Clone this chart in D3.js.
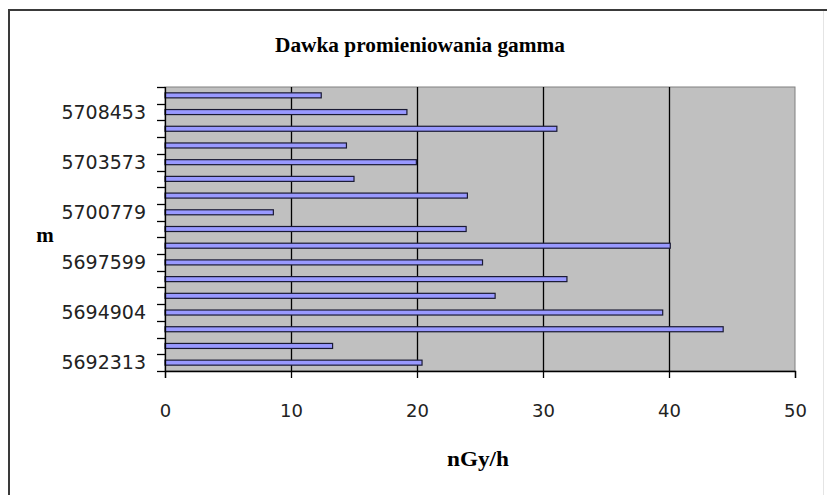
<!DOCTYPE html>
<html>
<head>
<meta charset="utf-8">
<script src="https://cdn.jsdelivr.net/npm/d3@7"></script>
<style>
  html, body { margin: 0; padding: 0; background: #ffffff; }
  svg { display: block; }
</style>
</head>
<body>
<svg id="chart" width="827" height="495"></svg>
<script>
// ---- data (bottom to top, as drawn) ----
const chartTitle = "Dawka promieniowania gamma";
const xAxisTitle = "nGy/h";
const yAxisTitle = "m";
// category labels; only every third one is printed on the axis
const categoryLabels = [
  "5692313", null, null,
  "5694904", null, null,
  "5697599", null, null,
  "5700779", null, null,
  "5703573", null, null,
  "5708453", null
];
const doseValues = [
  20.4, 13.3, 44.3,
  39.5, 26.2, 31.9,
  25.2, 40.1, 23.9,
  8.6, 24.0, 15.0,
  19.95, 14.4, 31.1,
  19.2, 12.4
];
const xTicks = [0, 10, 20, 30, 40, 50];

// ---- layout ----
const svg = d3.select("#chart");
const plot = { left: 165, right: 795, top: 87, bottom: 371 };

const x = d3.scaleLinear().domain([0, 50]).range([plot.left, plot.right]);
const idx = d3.range(doseValues.length);
const y = d3.scaleBand().domain(idx).range([plot.bottom, plot.top]).paddingInner(0.7).paddingOuter(0.35);
const yBand = d3.scaleBand().domain(idx).range([plot.bottom, plot.top]);

// outer chart frame
svg.append("line").attr("x1", 9).attr("y1", 10).attr("x2", 9).attr("y2", 495)
  .attr("stroke", "#3a3a3a").attr("stroke-width", 2);
svg.append("line").attr("x1", 8).attr("y1", 10).attr("x2", 827).attr("y2", 10)
  .attr("stroke", "#3a3a3a").attr("stroke-width", 2);
svg.append("line").attr("x1", 823.5).attr("y1", 11).attr("x2", 823.5).attr("y2", 495)
  .attr("stroke", "#e4e4e4").attr("stroke-width", 1);

// plot area
svg.append("rect")
  .attr("x", plot.left).attr("y", plot.top)
  .attr("width", plot.right - plot.left).attr("height", plot.bottom - plot.top)
  .attr("fill", "#c0c0c0").attr("stroke", "#808080").attr("stroke-width", 1);

// gridlines
svg.append("g").selectAll("line")
  .data(xTicks.filter(t => t > 0 && t < 50))
  .join("line")
  .attr("x1", d => Math.round(x(d)) + 0.5).attr("x2", d => Math.round(x(d)) + 0.5)
  .attr("y1", plot.top).attr("y2", plot.bottom)
  .attr("stroke", "#000").attr("stroke-width", 1.3);

// bars
svg.append("g").selectAll("rect")
  .data(idx)
  .join("rect")
  .attr("x", x(0))
  .attr("y", i => y(i))
  .attr("width", i => x(doseValues[i]) - x(0))
  .attr("height", y.bandwidth())
  .attr("fill", "#9999ff")
  .attr("stroke", "#1a1a33").attr("stroke-width", 1.2);

// x axis
const xAxis = d3.axisBottom(x).tickValues(xTicks).tickSize(7).tickPadding(26).tickFormat(d3.format("d"));
const gx = svg.append("g").attr("transform", `translate(0,${plot.bottom})`).call(xAxis);
gx.select(".domain").attr("stroke", "#000").attr("stroke-width", 1.3);
gx.selectAll(".tick line").attr("stroke", "#000").attr("stroke-width", 1.3);
gx.selectAll(".tick text")
  .attr("font-family", "DejaVu Sans, sans-serif").attr("font-size", 18)
  .attr("fill", "#222");

// y axis: ticks at band boundaries, labels at band centers
const boundaries = d3.range(doseValues.length + 1).map(k => plot.bottom - k * yBand.step());
svg.append("g").selectAll("line")
  .data(boundaries)
  .join("line")
  .attr("x1", plot.left - 8).attr("x2", plot.left)
  .attr("y1", d => Math.round(d) + 0.5).attr("y2", d => Math.round(d) + 0.5)
  .attr("stroke", "#000").attr("stroke-width", 1.3);
svg.append("line")
  .attr("x1", plot.left + 0.5).attr("x2", plot.left + 0.5)
  .attr("y1", plot.top).attr("y2", plot.bottom)
  .attr("stroke", "#000").attr("stroke-width", 1.3);

svg.append("g").selectAll("text")
  .data(idx.filter(i => categoryLabels[i]))
  .join("text")
  .attr("x", 146)
  .attr("y", i => yBand(i) + yBand.bandwidth() / 2)
  .attr("dy", "0.36em")
  .attr("text-anchor", "end")
  .attr("font-family", "DejaVu Sans, sans-serif").attr("font-size", 19)
  .attr("fill", "#222")
  .text(i => categoryLabels[i]);

// titles
svg.append("text")
  .attr("x", 420).attr("y", 52)
  .attr("text-anchor", "middle")
  .attr("font-family", "Liberation Serif, serif").attr("font-weight", "bold").attr("font-size", 20)
  .attr("textLength", 290).attr("lengthAdjust", "spacingAndGlyphs")
  .text(chartTitle);

svg.append("text")
  .attr("x", 45).attr("y", 242)
  .attr("text-anchor", "middle")
  .attr("font-family", "Liberation Serif, serif").attr("font-weight", "bold").attr("font-size", 21)
  .text(yAxisTitle);

svg.append("text")
  .attr("x", 478).attr("y", 466)
  .attr("text-anchor", "middle")
  .attr("font-family", "Liberation Serif, serif").attr("font-weight", "bold").attr("font-size", 20)
  .attr("textLength", 62).attr("lengthAdjust", "spacingAndGlyphs")
  .text(xAxisTitle);
</script>
</body>
</html>
